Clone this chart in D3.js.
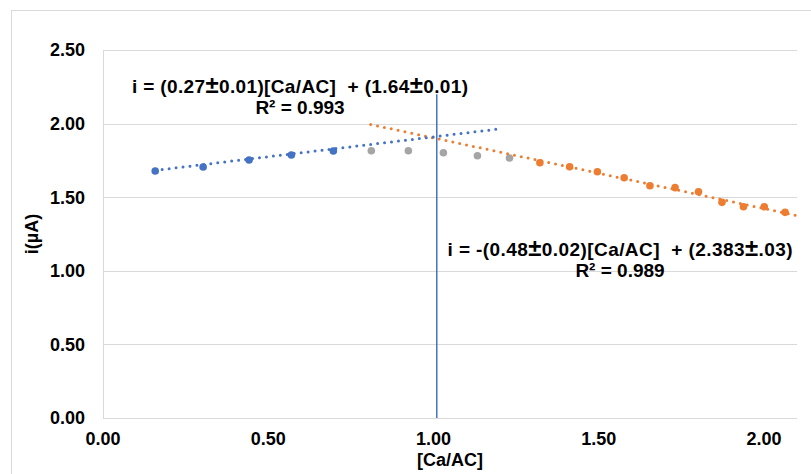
<!DOCTYPE html>
<html>
<head>
<meta charset="utf-8">
<script src="https://cdn.jsdelivr.net/npm/d3@7"></script>
<style>
  body { margin: 0; background: #fff; }
  text { font-family: "Liberation Sans", Arial, sans-serif; font-weight: bold; fill: #000; white-space: pre; }
</style>
</head>
<body>
<div id="chart"></div>
<script>
// data
const blueX = [0.158, 0.303, 0.442, 0.570, 0.697];
const blueY = [1.678, 1.705, 1.753, 1.787, 1.814];
const grayX = [0.812, 0.924, 1.030, 1.133, 1.230];
const grayY = [1.816, 1.816, 1.802, 1.782, 1.766];
const orangeX = [1.322, 1.412, 1.496, 1.577, 1.655, 1.731, 1.802, 1.873, 1.938, 2.001, 2.064];
const orangeY = [1.734, 1.707, 1.673, 1.632, 1.578, 1.565, 1.537, 1.465, 1.435, 1.435, 1.397];

// trendlines: slope, intercept, start, end
const blueFit = [0.27, 1.64, 0.158, 1.197];
const orangeFit = [-0.48, 2.383, 0.81, 2.1];
const markerLine = [1.01, 0, 2.2];

const xTicks = [0, 0.5, 1, 1.5, 2];
const yTicks = [0, 0.5, 1, 1.5, 2, 2.5];
const eq1 = ['i = (0.27±0.01)[Ca/AC]  + (1.64±0.01)', 'R² = 0.993'];
const eq2 = ['i = -(0.48±0.02)[Ca/AC]  + (2.383±.03)', 'R² = 0.989'];

const width = 811, height = 474;
const margin = { top: 50, right: 14, bottom: 56, left: 103 };

const svg = d3.select('#chart').append('svg')
    .attr('width', width)
    .attr('height', height);

// outer chart border
svg.append('rect')
    .attr('x', 11.5).attr('y', 10.5)
    .attr('width', 820).attr('height', 480)
    .attr('fill', 'none').attr('stroke', '#d9d9d9');

const x = d3.scaleLinear().domain([0, 2.1]).range([margin.left, width - margin.right]);
const y = d3.scaleLinear().domain([0, 2.5]).range([height - margin.bottom, margin.top]);

// gridlines
svg.selectAll('.grid')
    .data(yTicks)
    .enter().append('line')
    .attr('x1', x(0)).attr('x2', x(2.1))
    .attr('y1', d => Math.round(y(d)) + 0.5).attr('y2', d => Math.round(y(d)) + 0.5)
    .attr('stroke', '#d9d9d9');

svg.append('line')
    .attr('x1', x(0) + 0.5).attr('x2', x(0) + 0.5)
    .attr('y1', y(0)).attr('y2', y(2.5))
    .attr('stroke', '#d9d9d9');

// tick labels
svg.selectAll('.ytick')
    .data(yTicks)
    .enter().append('text')
    .attr('x', 85)
    .attr('y', d => y(d))
    .attr('dy', '0.36em')
    .attr('text-anchor', 'end')
    .style('font-size', '18px')
    .text(d3.format('.2f'));

svg.selectAll('.xtick')
    .data(xTicks)
    .enter().append('text')
    .attr('x', d => x(d))
    .attr('y', 445)
    .attr('text-anchor', 'middle')
    .style('font-size', '18px')
    .text(d3.format('.2f'));

svg.append('text')
    .attr('x', x(1.05)).attr('y', 466)
    .attr('text-anchor', 'middle')
    .style('font-size', '18px')
    .text('[Ca/AC]');

svg.append('text')
    .attr('transform', 'translate(38,234) rotate(-90)')
    .attr('text-anchor', 'middle')
    .style('font-size', '18px')
    .text('i(µA)');

// vertical marker line
svg.append('line')
    .attr('x1', x(markerLine[0])).attr('x2', x(markerLine[0]))
    .attr('y1', y(markerLine[1])).attr('y2', y(markerLine[2]))
    .attr('stroke', '#4472c4').attr('stroke-width', 1.5);

// dotted trendlines
function trend(fit, color) {
    const pts = [fit[2], fit[3]].map(v => [x(v), y(fit[0] * v + fit[1])]);
    svg.append('path')
        .attr('d', d3.line()(pts))
        .attr('fill', 'none')
        .attr('stroke', color)
        .attr('stroke-width', 3)
        .attr('stroke-linecap', 'round')
        .attr('stroke-dasharray', '0,7');
}

// points
function points(xs, ys, color) {
    svg.append('g').selectAll('circle')
        .data(xs.map((v, i) => [v, ys[i]]))
        .enter().append('circle')
        .attr('cx', d => x(d[0]))
        .attr('cy', d => y(d[1]))
        .attr('r', 3.8)
        .attr('fill', color);
}

points(grayX, grayY, '#a5a5a5');
points(blueX, blueY, '#4472c4');
points(orangeX, orangeY, '#ed7d31');
trend(orangeFit, '#ed7d31');
trend(blueFit, '#4472c4');

// equations (the ± sign is drawn larger, like in the original)
function label(lines, cx, by, w) {
    lines.forEach((line, i) => {
        const t = svg.append('text')
            .attr('x', cx)
            .attr('y', by + i * 21)
            .attr('text-anchor', 'middle')
            .style('font-size', '19px');
        line.split(/(±)/).forEach(part => {
            const s = t.append('tspan').text(part);
            if (part === '±') s.style('font-size', '24px');
        });
        if (i === 0) t.attr('textLength', w).attr('lengthAdjust', 'spacing');
    });
}
label(eq1, 300, 93, 336);
label(eq2, 620, 256, 345);
</script>
</body>
</html>
